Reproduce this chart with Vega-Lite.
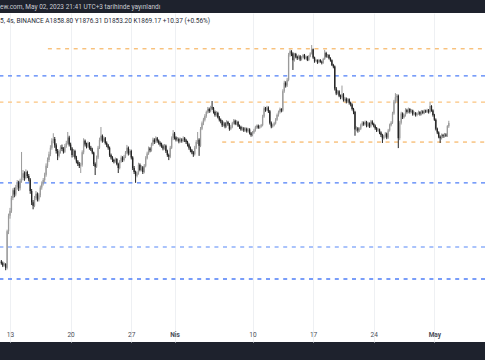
{
  "$schema": "https://vega.github.io/schema/vega-lite/v6.json",
  "width": 485,
  "height": 329,
  "autosize": {"type": "none"},
  "padding": {"left": 0, "top": 13, "right": 0, "bottom": 18},
  "background": "#1e222d",
  "view": {"stroke": null, "fill": "#ffffff"},
  "title": {
    "text": "ew.com, May 02, 2023 21:41 UTC+3 tarihinde yayınlandı",
    "subtitle": "5, 4s, BINANCE  A1858.80  Y1876.31  D1853.20  K1869.17  +10.37 (+0.56%)",
    "anchor": "start",
    "frame": "group",
    "orient": "top",
    "offset": -11.5,
    "font": "Roboto",
    "fontSize": 6.5,
    "fontWeight": "normal",
    "color": "#c9cbd2",
    "subtitleFont": "Roboto",
    "subtitleFontSize": 6.5,
    "subtitleColor": "#2a2e39",
    "subtitlePadding": 8
  },
  "datasets": {
    "levels": [
      {"p": 2029, "k": "mavi"},
      {"p": 1938, "k": "açık turuncu"},
      {"p": 1684, "k": "mavi"},
      {"p": 1506, "k": "açık mavi"},
      {"p": 1424, "k": "mavi"}
    ],
    "partial": [
      {"p": 2127, "s": "2023-03-17T09:00", "k": "turuncu"},
      {"p": 1808, "s": "2023-04-06T12:00", "k": "turuncu"}
    ],
    "candles": [
      {"t":"2023-03-12T00:00","o":1468,"h":1472,"l":1460,"c":1464},
      {"t":"2023-03-12T04:00","o":1464,"h":1468,"l":1454,"c":1458},
      {"t":"2023-03-12T08:00","o":1458,"h":1466,"l":1455,"c":1462},
      {"t":"2023-03-12T12:00","o":1462,"h":1464,"l":1446,"c":1452},
      {"t":"2023-03-12T16:00","o":1452,"h":1552,"l":1448,"c":1548},
      {"t":"2023-03-12T20:00","o":1548,"h":1596,"l":1540,"c":1590},
      {"t":"2023-03-13T00:00","o":1590,"h":1612,"l":1582,"c":1604},
      {"t":"2023-03-13T04:00","o":1604,"h":1646,"l":1598,"c":1640},
      {"t":"2023-03-13T08:00","o":1640,"h":1668,"l":1634,"c":1662},
      {"t":"2023-03-13T12:00","o":1662,"h":1670,"l":1642,"c":1650},
      {"t":"2023-03-13T16:00","o":1650,"h":1678,"l":1645,"c":1672},
      {"t":"2023-03-13T20:00","o":1672,"h":1692,"l":1664,"c":1685},
      {"t":"2023-03-14T00:00","o":1685,"h":1690,"l":1660,"c":1668},
      {"t":"2023-03-14T04:00","o":1668,"h":1696,"l":1662,"c":1690},
      {"t":"2023-03-14T08:00","o":1690,"h":1777,"l":1684,"c":1700},
      {"t":"2023-03-14T12:00","o":1700,"h":1722,"l":1692,"c":1712},
      {"t":"2023-03-14T16:00","o":1712,"h":1718,"l":1690,"c":1698},
      {"t":"2023-03-14T20:00","o":1698,"h":1724,"l":1694,"c":1716},
      {"t":"2023-03-15T00:00","o":1716,"h":1720,"l":1698,"c":1704},
      {"t":"2023-03-15T04:00","o":1704,"h":1710,"l":1688,"c":1694},
      {"t":"2023-03-15T08:00","o":1694,"h":1698,"l":1652,"c":1660},
      {"t":"2023-03-15T12:00","o":1660,"h":1666,"l":1620,"c":1628},
      {"t":"2023-03-15T16:00","o":1628,"h":1634,"l":1608,"c":1618},
      {"t":"2023-03-15T20:00","o":1618,"h":1646,"l":1614,"c":1640},
      {"t":"2023-03-16T00:00","o":1640,"h":1660,"l":1634,"c":1652},
      {"t":"2023-03-16T04:00","o":1652,"h":1656,"l":1630,"c":1636},
      {"t":"2023-03-16T08:00","o":1636,"h":1654,"l":1630,"c":1648},
      {"t":"2023-03-16T12:00","o":1648,"h":1676,"l":1642,"c":1670},
      {"t":"2023-03-16T16:00","o":1670,"h":1688,"l":1664,"c":1682},
      {"t":"2023-03-16T20:00","o":1682,"h":1698,"l":1676,"c":1692},
      {"t":"2023-03-17T00:00","o":1692,"h":1714,"l":1686,"c":1708},
      {"t":"2023-03-17T04:00","o":1708,"h":1742,"l":1702,"c":1735},
      {"t":"2023-03-17T08:00","o":1735,"h":1760,"l":1728,"c":1752},
      {"t":"2023-03-17T12:00","o":1752,"h":1778,"l":1746,"c":1770},
      {"t":"2023-03-17T16:00","o":1770,"h":1798,"l":1764,"c":1790},
      {"t":"2023-03-17T20:00","o":1790,"h":1820,"l":1784,"c":1812},
      {"t":"2023-03-18T00:00","o":1812,"h":1836,"l":1804,"c":1818},
      {"t":"2023-03-18T04:00","o":1818,"h":1824,"l":1790,"c":1798},
      {"t":"2023-03-18T08:00","o":1798,"h":1804,"l":1772,"c":1780},
      {"t":"2023-03-18T12:00","o":1780,"h":1786,"l":1752,"c":1765},
      {"t":"2023-03-18T16:00","o":1765,"h":1784,"l":1760,"c":1778},
      {"t":"2023-03-18T20:00","o":1778,"h":1798,"l":1772,"c":1792},
      {"t":"2023-03-19T00:00","o":1792,"h":1800,"l":1780,"c":1786},
      {"t":"2023-03-19T04:00","o":1786,"h":1792,"l":1772,"c":1778},
      {"t":"2023-03-19T08:00","o":1778,"h":1802,"l":1774,"c":1795},
      {"t":"2023-03-19T12:00","o":1795,"h":1812,"l":1790,"c":1805},
      {"t":"2023-03-19T16:00","o":1805,"h":1840,"l":1800,"c":1822},
      {"t":"2023-03-19T20:00","o":1822,"h":1828,"l":1794,"c":1800},
      {"t":"2023-03-20T00:00","o":1800,"h":1806,"l":1782,"c":1788},
      {"t":"2023-03-20T04:00","o":1788,"h":1792,"l":1760,"c":1768},
      {"t":"2023-03-20T08:00","o":1768,"h":1786,"l":1762,"c":1780},
      {"t":"2023-03-20T12:00","o":1780,"h":1784,"l":1754,"c":1760},
      {"t":"2023-03-20T16:00","o":1760,"h":1765,"l":1742,"c":1748},
      {"t":"2023-03-20T20:00","o":1748,"h":1752,"l":1734,"c":1740},
      {"t":"2023-03-21T00:00","o":1740,"h":1746,"l":1728,"c":1735},
      {"t":"2023-03-21T04:00","o":1735,"h":1744,"l":1713,"c":1738},
      {"t":"2023-03-21T08:00","o":1738,"h":1782,"l":1732,"c":1776},
      {"t":"2023-03-21T12:00","o":1776,"h":1820,"l":1770,"c":1812},
      {"t":"2023-03-21T16:00","o":1812,"h":1816,"l":1794,"c":1800},
      {"t":"2023-03-21T20:00","o":1800,"h":1806,"l":1788,"c":1794},
      {"t":"2023-03-22T00:00","o":1794,"h":1810,"l":1790,"c":1805},
      {"t":"2023-03-22T04:00","o":1805,"h":1808,"l":1784,"c":1790},
      {"t":"2023-03-22T08:00","o":1790,"h":1796,"l":1780,"c":1785},
      {"t":"2023-03-22T12:00","o":1785,"h":1790,"l":1770,"c":1775},
      {"t":"2023-03-22T16:00","o":1775,"h":1778,"l":1734,"c":1740},
      {"t":"2023-03-22T20:00","o":1740,"h":1745,"l":1707,"c":1732},
      {"t":"2023-03-23T00:00","o":1732,"h":1766,"l":1728,"c":1760},
      {"t":"2023-03-23T04:00","o":1760,"h":1796,"l":1755,"c":1790},
      {"t":"2023-03-23T08:00","o":1790,"h":1822,"l":1786,"c":1815},
      {"t":"2023-03-23T12:00","o":1815,"h":1856,"l":1810,"c":1828},
      {"t":"2023-03-23T16:00","o":1828,"h":1832,"l":1806,"c":1812},
      {"t":"2023-03-23T20:00","o":1812,"h":1826,"l":1808,"c":1820},
      {"t":"2023-03-24T00:00","o":1820,"h":1824,"l":1800,"c":1805},
      {"t":"2023-03-24T04:00","o":1805,"h":1810,"l":1792,"c":1798},
      {"t":"2023-03-24T08:00","o":1798,"h":1802,"l":1784,"c":1790},
      {"t":"2023-03-24T12:00","o":1790,"h":1794,"l":1762,"c":1768},
      {"t":"2023-03-24T16:00","o":1768,"h":1772,"l":1754,"c":1760},
      {"t":"2023-03-24T20:00","o":1760,"h":1764,"l":1746,"c":1752},
      {"t":"2023-03-25T00:00","o":1752,"h":1756,"l":1742,"c":1748},
      {"t":"2023-03-25T04:00","o":1748,"h":1760,"l":1744,"c":1755},
      {"t":"2023-03-25T08:00","o":1755,"h":1758,"l":1736,"c":1740},
      {"t":"2023-03-25T12:00","o":1740,"h":1744,"l":1713,"c":1728},
      {"t":"2023-03-25T16:00","o":1728,"h":1752,"l":1724,"c":1748},
      {"t":"2023-03-25T20:00","o":1748,"h":1766,"l":1744,"c":1760},
      {"t":"2023-03-26T00:00","o":1760,"h":1764,"l":1746,"c":1752},
      {"t":"2023-03-26T04:00","o":1752,"h":1768,"l":1748,"c":1762},
      {"t":"2023-03-26T08:00","o":1762,"h":1780,"l":1758,"c":1775},
      {"t":"2023-03-26T12:00","o":1775,"h":1799,"l":1770,"c":1790},
      {"t":"2023-03-26T16:00","o":1790,"h":1794,"l":1766,"c":1772},
      {"t":"2023-03-26T20:00","o":1772,"h":1786,"l":1768,"c":1780},
      {"t":"2023-03-27T00:00","o":1780,"h":1784,"l":1754,"c":1760},
      {"t":"2023-03-27T04:00","o":1760,"h":1764,"l":1722,"c":1728},
      {"t":"2023-03-27T08:00","o":1728,"h":1734,"l":1710,"c":1716},
      {"t":"2023-03-27T12:00","o":1716,"h":1720,"l":1684,"c":1705},
      {"t":"2023-03-27T16:00","o":1705,"h":1718,"l":1700,"c":1712},
      {"t":"2023-03-27T20:00","o":1712,"h":1744,"l":1708,"c":1738},
      {"t":"2023-03-28T00:00","o":1738,"h":1742,"l":1718,"c":1722},
      {"t":"2023-03-28T04:00","o":1722,"h":1736,"l":1718,"c":1730},
      {"t":"2023-03-28T08:00","o":1730,"h":1734,"l":1710,"c":1716},
      {"t":"2023-03-28T12:00","o":1716,"h":1740,"l":1712,"c":1735},
      {"t":"2023-03-28T16:00","o":1735,"h":1764,"l":1730,"c":1758},
      {"t":"2023-03-28T20:00","o":1758,"h":1778,"l":1754,"c":1772},
      {"t":"2023-03-29T00:00","o":1772,"h":1794,"l":1768,"c":1788},
      {"t":"2023-03-29T04:00","o":1788,"h":1792,"l":1776,"c":1782},
      {"t":"2023-03-29T08:00","o":1782,"h":1806,"l":1778,"c":1800},
      {"t":"2023-03-29T12:00","o":1800,"h":1822,"l":1796,"c":1815},
      {"t":"2023-03-29T16:00","o":1815,"h":1820,"l":1802,"c":1808},
      {"t":"2023-03-29T20:00","o":1808,"h":1826,"l":1804,"c":1820},
      {"t":"2023-03-30T00:00","o":1820,"h":1824,"l":1806,"c":1812},
      {"t":"2023-03-30T04:00","o":1812,"h":1816,"l":1800,"c":1805},
      {"t":"2023-03-30T08:00","o":1805,"h":1810,"l":1794,"c":1800},
      {"t":"2023-03-30T12:00","o":1800,"h":1806,"l":1790,"c":1795},
      {"t":"2023-03-30T16:00","o":1795,"h":1800,"l":1782,"c":1788},
      {"t":"2023-03-30T20:00","o":1788,"h":1802,"l":1784,"c":1796},
      {"t":"2023-03-31T00:00","o":1796,"h":1800,"l":1774,"c":1780},
      {"t":"2023-03-31T04:00","o":1780,"h":1784,"l":1762,"c":1768},
      {"t":"2023-03-31T08:00","o":1768,"h":1772,"l":1752,"c":1762},
      {"t":"2023-03-31T12:00","o":1762,"h":1796,"l":1758,"c":1790},
      {"t":"2023-03-31T16:00","o":1790,"h":1826,"l":1786,"c":1820},
      {"t":"2023-03-31T20:00","o":1820,"h":1846,"l":1814,"c":1835},
      {"t":"2023-04-01T00:00","o":1835,"h":1840,"l":1816,"c":1822},
      {"t":"2023-04-01T04:00","o":1822,"h":1826,"l":1810,"c":1815},
      {"t":"2023-04-01T08:00","o":1815,"h":1824,"l":1810,"c":1818},
      {"t":"2023-04-01T12:00","o":1818,"h":1822,"l":1804,"c":1810},
      {"t":"2023-04-01T16:00","o":1810,"h":1822,"l":1806,"c":1816},
      {"t":"2023-04-01T20:00","o":1816,"h":1820,"l":1806,"c":1812},
      {"t":"2023-04-02T00:00","o":1812,"h":1826,"l":1808,"c":1820},
      {"t":"2023-04-02T04:00","o":1820,"h":1824,"l":1808,"c":1814},
      {"t":"2023-04-02T08:00","o":1814,"h":1818,"l":1802,"c":1808},
      {"t":"2023-04-02T12:00","o":1808,"h":1812,"l":1794,"c":1800},
      {"t":"2023-04-02T16:00","o":1800,"h":1804,"l":1784,"c":1790},
      {"t":"2023-04-02T20:00","o":1790,"h":1794,"l":1776,"c":1782},
      {"t":"2023-04-03T00:00","o":1782,"h":1786,"l":1770,"c":1776},
      {"t":"2023-04-03T04:00","o":1776,"h":1780,"l":1762,"c":1770},
      {"t":"2023-04-03T08:00","o":1770,"h":1796,"l":1766,"c":1790},
      {"t":"2023-04-03T12:00","o":1790,"h":1814,"l":1786,"c":1808},
      {"t":"2023-04-03T16:00","o":1808,"h":1840,"l":1802,"c":1815},
      {"t":"2023-04-03T20:00","o":1815,"h":1820,"l":1765,"c":1796},
      {"t":"2023-04-04T00:00","o":1796,"h":1856,"l":1792,"c":1850},
      {"t":"2023-04-04T04:00","o":1850,"h":1874,"l":1846,"c":1868},
      {"t":"2023-04-04T08:00","o":1868,"h":1886,"l":1862,"c":1880},
      {"t":"2023-04-04T12:00","o":1880,"h":1898,"l":1874,"c":1892},
      {"t":"2023-04-04T16:00","o":1892,"h":1910,"l":1886,"c":1905},
      {"t":"2023-04-04T20:00","o":1905,"h":1922,"l":1900,"c":1915},
      {"t":"2023-04-05T00:00","o":1915,"h":1920,"l":1902,"c":1908},
      {"t":"2023-04-05T04:00","o":1908,"h":1926,"l":1904,"c":1920},
      {"t":"2023-04-05T08:00","o":1920,"h":1942,"l":1912,"c":1918},
      {"t":"2023-04-05T12:00","o":1918,"h":1922,"l":1900,"c":1905},
      {"t":"2023-04-05T16:00","o":1905,"h":1910,"l":1890,"c":1895},
      {"t":"2023-04-05T20:00","o":1895,"h":1908,"l":1890,"c":1902},
      {"t":"2023-04-06T00:00","o":1902,"h":1906,"l":1884,"c":1888},
      {"t":"2023-04-06T04:00","o":1888,"h":1892,"l":1874,"c":1880},
      {"t":"2023-04-06T08:00","o":1880,"h":1884,"l":1868,"c":1875},
      {"t":"2023-04-06T12:00","o":1875,"h":1879,"l":1856,"c":1862},
      {"t":"2023-04-06T16:00","o":1862,"h":1874,"l":1858,"c":1868},
      {"t":"2023-04-06T20:00","o":1868,"h":1872,"l":1852,"c":1858},
      {"t":"2023-04-07T00:00","o":1858,"h":1878,"l":1854,"c":1872},
      {"t":"2023-04-07T04:00","o":1872,"h":1876,"l":1860,"c":1865},
      {"t":"2023-04-07T08:00","o":1865,"h":1869,"l":1844,"c":1850},
      {"t":"2023-04-07T12:00","o":1850,"h":1862,"l":1846,"c":1856},
      {"t":"2023-04-07T16:00","o":1856,"h":1873,"l":1852,"c":1868},
      {"t":"2023-04-07T20:00","o":1868,"h":1882,"l":1864,"c":1876},
      {"t":"2023-04-08T00:00","o":1876,"h":1880,"l":1862,"c":1866},
      {"t":"2023-04-08T04:00","o":1866,"h":1878,"l":1862,"c":1872},
      {"t":"2023-04-08T08:00","o":1872,"h":1876,"l":1856,"c":1860},
      {"t":"2023-04-08T12:00","o":1860,"h":1864,"l":1850,"c":1856},
      {"t":"2023-04-08T16:00","o":1856,"h":1860,"l":1844,"c":1848},
      {"t":"2023-04-08T20:00","o":1848,"h":1857,"l":1844,"c":1852},
      {"t":"2023-04-09T00:00","o":1852,"h":1856,"l":1840,"c":1845},
      {"t":"2023-04-09T04:00","o":1845,"h":1855,"l":1841,"c":1850},
      {"t":"2023-04-09T08:00","o":1850,"h":1854,"l":1838,"c":1842},
      {"t":"2023-04-09T12:00","o":1842,"h":1853,"l":1838,"c":1848},
      {"t":"2023-04-09T16:00","o":1848,"h":1852,"l":1832,"c":1836},
      {"t":"2023-04-09T20:00","o":1836,"h":1840,"l":1825,"c":1830},
      {"t":"2023-04-10T00:00","o":1830,"h":1843,"l":1826,"c":1838},
      {"t":"2023-04-10T04:00","o":1838,"h":1850,"l":1834,"c":1845},
      {"t":"2023-04-10T08:00","o":1845,"h":1860,"l":1841,"c":1855},
      {"t":"2023-04-10T12:00","o":1855,"h":1864,"l":1850,"c":1860},
      {"t":"2023-04-10T16:00","o":1860,"h":1864,"l":1850,"c":1854},
      {"t":"2023-04-10T20:00","o":1854,"h":1862,"l":1850,"c":1858},
      {"t":"2023-04-11T00:00","o":1858,"h":1866,"l":1854,"c":1862},
      {"t":"2023-04-11T04:00","o":1862,"h":1896,"l":1858,"c":1890},
      {"t":"2023-04-11T08:00","o":1890,"h":1924,"l":1886,"c":1918},
      {"t":"2023-04-11T12:00","o":1918,"h":1922,"l":1906,"c":1912},
      {"t":"2023-04-11T16:00","o":1912,"h":1926,"l":1908,"c":1920},
      {"t":"2023-04-11T20:00","o":1920,"h":1924,"l":1902,"c":1908},
      {"t":"2023-04-12T00:00","o":1908,"h":1912,"l":1864,"c":1870},
      {"t":"2023-04-12T04:00","o":1870,"h":1874,"l":1852,"c":1858},
      {"t":"2023-04-12T08:00","o":1858,"h":1867,"l":1854,"c":1862},
      {"t":"2023-04-12T12:00","o":1862,"h":1873,"l":1858,"c":1868},
      {"t":"2023-04-12T16:00","o":1868,"h":1885,"l":1864,"c":1880},
      {"t":"2023-04-12T20:00","o":1880,"h":1900,"l":1876,"c":1895},
      {"t":"2023-04-13T00:00","o":1895,"h":1910,"l":1890,"c":1905},
      {"t":"2023-04-13T04:00","o":1905,"h":1920,"l":1900,"c":1915},
      {"t":"2023-04-13T08:00","o":1915,"h":1918,"l":1904,"c":1910},
      {"t":"2023-04-13T12:00","o":1910,"h":1982,"l":1906,"c":1975},
      {"t":"2023-04-13T16:00","o":1975,"h":2012,"l":1970,"c":2005},
      {"t":"2023-04-13T20:00","o":2005,"h":2010,"l":1988,"c":1995},
      {"t":"2023-04-14T00:00","o":1995,"h":2022,"l":1990,"c":2015},
      {"t":"2023-04-14T04:00","o":2015,"h":2112,"l":2010,"c":2105},
      {"t":"2023-04-14T08:00","o":2105,"h":2124,"l":2098,"c":2118},
      {"t":"2023-04-14T12:00","o":2118,"h":2122,"l":2100,"c":2110},
      {"t":"2023-04-14T16:00","o":2110,"h":2114,"l":2050,"c":2085},
      {"t":"2023-04-14T20:00","o":2085,"h":2112,"l":2080,"c":2108},
      {"t":"2023-04-15T00:00","o":2108,"h":2112,"l":2092,"c":2098},
      {"t":"2023-04-15T04:00","o":2098,"h":2102,"l":2086,"c":2092},
      {"t":"2023-04-15T08:00","o":2092,"h":2106,"l":2088,"c":2100},
      {"t":"2023-04-15T12:00","o":2100,"h":2104,"l":2082,"c":2088},
      {"t":"2023-04-15T16:00","o":2088,"h":2100,"l":2084,"c":2096},
      {"t":"2023-04-15T20:00","o":2096,"h":2108,"l":2092,"c":2104},
      {"t":"2023-04-16T00:00","o":2104,"h":2108,"l":2088,"c":2092},
      {"t":"2023-04-16T04:00","o":2092,"h":2102,"l":2088,"c":2098},
      {"t":"2023-04-16T08:00","o":2098,"h":2101,"l":2082,"c":2086},
      {"t":"2023-04-16T12:00","o":2086,"h":2104,"l":2082,"c":2100},
      {"t":"2023-04-16T16:00","o":2100,"h":2114,"l":2096,"c":2110},
      {"t":"2023-04-16T20:00","o":2110,"h":2141,"l":2106,"c":2125},
      {"t":"2023-04-17T00:00","o":2125,"h":2128,"l":2090,"c":2095},
      {"t":"2023-04-17T04:00","o":2095,"h":2098,"l":2076,"c":2082},
      {"t":"2023-04-17T08:00","o":2082,"h":2090,"l":2078,"c":2085},
      {"t":"2023-04-17T12:00","o":2085,"h":2088,"l":2072,"c":2078},
      {"t":"2023-04-17T16:00","o":2078,"h":2090,"l":2074,"c":2086},
      {"t":"2023-04-17T20:00","o":2086,"h":2089,"l":2076,"c":2080},
      {"t":"2023-04-18T00:00","o":2080,"h":2084,"l":2070,"c":2076},
      {"t":"2023-04-18T04:00","o":2076,"h":2094,"l":2072,"c":2090},
      {"t":"2023-04-18T08:00","o":2090,"h":2123,"l":2086,"c":2112},
      {"t":"2023-04-18T12:00","o":2112,"h":2116,"l":2094,"c":2098},
      {"t":"2023-04-18T16:00","o":2098,"h":2108,"l":2094,"c":2104},
      {"t":"2023-04-18T20:00","o":2104,"h":2107,"l":2088,"c":2092},
      {"t":"2023-04-19T00:00","o":2092,"h":2096,"l":2080,"c":2085},
      {"t":"2023-04-19T04:00","o":2085,"h":2088,"l":2064,"c":2068},
      {"t":"2023-04-19T08:00","o":2068,"h":2072,"l":2056,"c":2062},
      {"t":"2023-04-19T12:00","o":2062,"h":2066,"l":1978,"c":1985},
      {"t":"2023-04-19T16:00","o":1985,"h":1990,"l":1962,"c":1968},
      {"t":"2023-04-19T20:00","o":1968,"h":1980,"l":1964,"c":1975},
      {"t":"2023-04-20T00:00","o":1975,"h":1979,"l":1955,"c":1960},
      {"t":"2023-04-20T04:00","o":1960,"h":1964,"l":1948,"c":1955},
      {"t":"2023-04-20T08:00","o":1955,"h":1995,"l":1950,"c":1965},
      {"t":"2023-04-20T12:00","o":1965,"h":1969,"l":1940,"c":1945},
      {"t":"2023-04-20T16:00","o":1945,"h":1956,"l":1940,"c":1950},
      {"t":"2023-04-20T20:00","o":1950,"h":1954,"l":1934,"c":1940},
      {"t":"2023-04-21T00:00","o":1940,"h":1952,"l":1936,"c":1948},
      {"t":"2023-04-21T04:00","o":1948,"h":1951,"l":1930,"c":1936},
      {"t":"2023-04-21T08:00","o":1936,"h":1940,"l":1924,"c":1930},
      {"t":"2023-04-21T12:00","o":1930,"h":1934,"l":1910,"c":1915},
      {"t":"2023-04-21T16:00","o":1915,"h":1919,"l":1898,"c":1905},
      {"t":"2023-04-21T20:00","o":1905,"h":1909,"l":1828,"c":1848},
      {"t":"2023-04-22T00:00","o":1848,"h":1858,"l":1842,"c":1852},
      {"t":"2023-04-22T04:00","o":1852,"h":1856,"l":1838,"c":1845},
      {"t":"2023-04-22T08:00","o":1845,"h":1855,"l":1840,"c":1850},
      {"t":"2023-04-22T12:00","o":1850,"h":1867,"l":1846,"c":1862},
      {"t":"2023-04-22T16:00","o":1862,"h":1875,"l":1858,"c":1870},
      {"t":"2023-04-22T20:00","o":1870,"h":1874,"l":1860,"c":1865},
      {"t":"2023-04-23T00:00","o":1865,"h":1877,"l":1861,"c":1872},
      {"t":"2023-04-23T04:00","o":1872,"h":1876,"l":1855,"c":1860},
      {"t":"2023-04-23T08:00","o":1860,"h":1873,"l":1856,"c":1868},
      {"t":"2023-04-23T12:00","o":1868,"h":1871,"l":1853,"c":1858},
      {"t":"2023-04-23T16:00","o":1858,"h":1879,"l":1854,"c":1874},
      {"t":"2023-04-23T20:00","o":1874,"h":1878,"l":1862,"c":1866},
      {"t":"2023-04-24T00:00","o":1866,"h":1870,"l":1855,"c":1860},
      {"t":"2023-04-24T04:00","o":1860,"h":1864,"l":1847,"c":1852},
      {"t":"2023-04-24T08:00","o":1852,"h":1856,"l":1840,"c":1845},
      {"t":"2023-04-24T12:00","o":1845,"h":1853,"l":1841,"c":1848},
      {"t":"2023-04-24T16:00","o":1848,"h":1851,"l":1833,"c":1838},
      {"t":"2023-04-24T20:00","o":1838,"h":1842,"l":1824,"c":1830},
      {"t":"2023-04-25T00:00","o":1830,"h":1834,"l":1805,"c":1820},
      {"t":"2023-04-25T04:00","o":1820,"h":1831,"l":1816,"c":1826},
      {"t":"2023-04-25T08:00","o":1826,"h":1840,"l":1822,"c":1835},
      {"t":"2023-04-25T12:00","o":1835,"h":1838,"l":1817,"c":1822},
      {"t":"2023-04-25T16:00","o":1822,"h":1850,"l":1818,"c":1845},
      {"t":"2023-04-25T20:00","o":1845,"h":1867,"l":1841,"c":1862},
      {"t":"2023-04-26T00:00","o":1862,"h":1875,"l":1858,"c":1870},
      {"t":"2023-04-26T04:00","o":1870,"h":1906,"l":1866,"c":1900},
      {"t":"2023-04-26T08:00","o":1900,"h":1946,"l":1896,"c":1940},
      {"t":"2023-04-26T12:00","o":1940,"h":1969,"l":1934,"c":1955},
      {"t":"2023-04-26T16:00","o":1955,"h":1966,"l":1940,"c":1960},
      {"t":"2023-04-26T20:00","o":1960,"h":1964,"l":1789,"c":1820},
      {"t":"2023-04-27T00:00","o":1820,"h":1876,"l":1814,"c":1870},
      {"t":"2023-04-27T04:00","o":1870,"h":1906,"l":1864,"c":1900},
      {"t":"2023-04-27T08:00","o":1900,"h":1904,"l":1882,"c":1888},
      {"t":"2023-04-27T12:00","o":1888,"h":1900,"l":1884,"c":1895},
      {"t":"2023-04-27T16:00","o":1895,"h":1918,"l":1890,"c":1912},
      {"t":"2023-04-27T20:00","o":1912,"h":1916,"l":1900,"c":1905},
      {"t":"2023-04-28T00:00","o":1905,"h":1920,"l":1901,"c":1915},
      {"t":"2023-04-28T04:00","o":1915,"h":1918,"l":1900,"c":1905},
      {"t":"2023-04-28T08:00","o":1905,"h":1915,"l":1901,"c":1910},
      {"t":"2023-04-28T12:00","o":1910,"h":1913,"l":1893,"c":1898},
      {"t":"2023-04-28T16:00","o":1898,"h":1907,"l":1894,"c":1902},
      {"t":"2023-04-28T20:00","o":1902,"h":1905,"l":1890,"c":1895},
      {"t":"2023-04-29T00:00","o":1895,"h":1904,"l":1891,"c":1900},
      {"t":"2023-04-29T04:00","o":1900,"h":1910,"l":1896,"c":1905},
      {"t":"2023-04-29T08:00","o":1905,"h":1908,"l":1893,"c":1898},
      {"t":"2023-04-29T12:00","o":1898,"h":1912,"l":1894,"c":1908},
      {"t":"2023-04-29T16:00","o":1908,"h":1911,"l":1898,"c":1902},
      {"t":"2023-04-29T20:00","o":1902,"h":1914,"l":1898,"c":1910},
      {"t":"2023-04-30T00:00","o":1910,"h":1913,"l":1902,"c":1906},
      {"t":"2023-04-30T04:00","o":1906,"h":1916,"l":1902,"c":1912},
      {"t":"2023-04-30T08:00","o":1912,"h":1915,"l":1900,"c":1905},
      {"t":"2023-04-30T12:00","o":1905,"h":1938,"l":1901,"c":1925},
      {"t":"2023-04-30T16:00","o":1925,"h":1928,"l":1906,"c":1910},
      {"t":"2023-04-30T20:00","o":1910,"h":1914,"l":1890,"c":1895},
      {"t":"2023-05-01T00:00","o":1895,"h":1899,"l":1876,"c":1880},
      {"t":"2023-05-01T04:00","o":1880,"h":1884,"l":1845,"c":1850},
      {"t":"2023-05-01T08:00","o":1850,"h":1854,"l":1833,"c":1838},
      {"t":"2023-05-01T12:00","o":1838,"h":1842,"l":1820,"c":1825},
      {"t":"2023-05-01T16:00","o":1825,"h":1829,"l":1805,"c":1820},
      {"t":"2023-05-01T20:00","o":1820,"h":1835,"l":1816,"c":1830},
      {"t":"2023-05-02T00:00","o":1830,"h":1834,"l":1821,"c":1826},
      {"t":"2023-05-02T04:00","o":1826,"h":1837,"l":1822,"c":1832},
      {"t":"2023-05-02T08:00","o":1832,"h":1836,"l":1824,"c":1828},
      {"t":"2023-05-02T12:00","o":1828,"h":1862,"l":1824,"c":1858.8},
      {"t":"2023-05-02T16:00","o":1858.8,"h":1876.31,"l":1853.2,"c":1869.17}
    ]
  },
  "layer": [
    {
      "data": {"name": "levels"},
      "mark": {"type": "rule", "strokeDash": [4, 4.6]},
      "encoding": {
        "y": {"field": "p", "type": "quantitative", "axis": null},
        "color": {"field": "k", "type": "nominal", "legend": null,
          "scale": {"domain": ["turuncu", "açık turuncu", "mavi", "açık mavi"], "range": ["#f5a540", "#fbc47f", "#4d7ef7", "#8eb0fa"]}},
        "strokeWidth": {"field": "k", "type": "nominal", "legend": null,
          "scale": {"domain": ["turuncu", "açık turuncu", "mavi", "açık mavi"], "range": [1, 1.5, 1, 1.5]}}
      }
    },
    {
      "data": {"name": "partial"},
      "mark": {"type": "rule", "strokeDash": [4, 4.6], "clip": true},
      "encoding": {
        "x": {"field": "s", "type": "temporal"},
        "x2": {"datum": {"year": 2023, "month": 5, "date": 8}},
        "y": {"field": "p", "type": "quantitative", "axis": null},
        "color": {"field": "k", "type": "nominal", "legend": null},
        "strokeWidth": {"field": "k", "type": "nominal", "legend": null}
      }
    },
    {
      "data": {"name": "candles"},
      "mark": {"type": "rule", "strokeWidth": 1},
      "encoding": {
        "x": {"field": "t", "type": "temporal",
          "scale": {"domain": [{"year": 2023, "month": 3, "date": 11, "hours": 20, "minutes": 17}, {"year": 2023, "month": 5, "date": 6, "hours": 20, "minutes": 17}], "nice": false, "padding": 0},
          "axis": {
            "title": null,
            "values": [
              {"year": 2023, "month": 3, "date": 13},
              {"year": 2023, "month": 3, "date": 20},
              {"year": 2023, "month": 3, "date": 27},
              {"year": 2023, "month": 4, "date": 1},
              {"year": 2023, "month": 4, "date": 10},
              {"year": 2023, "month": 4, "date": 17},
              {"year": 2023, "month": 4, "date": 24},
              {"year": 2023, "month": 5, "date": 1}
            ],
            "labelExpr": "date(datum.value) == 1 ? (month(datum.value) == 3 ? 'Nis' : 'May') : '' + date(datum.value)",
            "labelFontWeight": {"condition": {"test": "date(datum.value) == 1", "value": "bold"}, "value": "normal"},
            "offset": -17,
            "domain": false,
            "ticks": false,
            "labelPadding": 6,
            "labelFont": "Roboto",
            "labelFontSize": 6.5,
            "labelColor": "#4a4d57",
            "labelFlush": false,
            "labelOverlap": false,
            "grid": true,
            "gridColor": "#eef0f3"
          }
        },
        "y": {"field": "l", "type": "quantitative",
          "scale": {"type": "log", "domain": [1276, 2264], "nice": false, "zero": false},
          "axis": {
            "title": null,
            "labels": false,
            "ticks": false,
            "domain": false,
            "grid": true,
            "gridColor": "#eef0f3",
            "values": [2149, 2068, 1993, 1919, 1850, 1780, 1716, 1651, 1592, 1532, 1477, 1421, 1370, 1319]
          }
        },
        "y2": {"field": "h"},
        "color": {"condition": {"test": "datum.c >= datum.o", "value": "#9a9a9a"}, "value": "#222222"}
      }
    },
    {
      "data": {"name": "candles"},
      "mark": {"type": "bar", "size": 1.3},
      "encoding": {
        "x": {"field": "t", "type": "temporal"},
        "y": {"field": "o", "type": "quantitative"},
        "y2": {"field": "c"},
        "color": {"condition": {"test": "datum.c >= datum.o", "value": "#9a9a9a"}, "value": "#222222"}
      }
    }
  ]
}
